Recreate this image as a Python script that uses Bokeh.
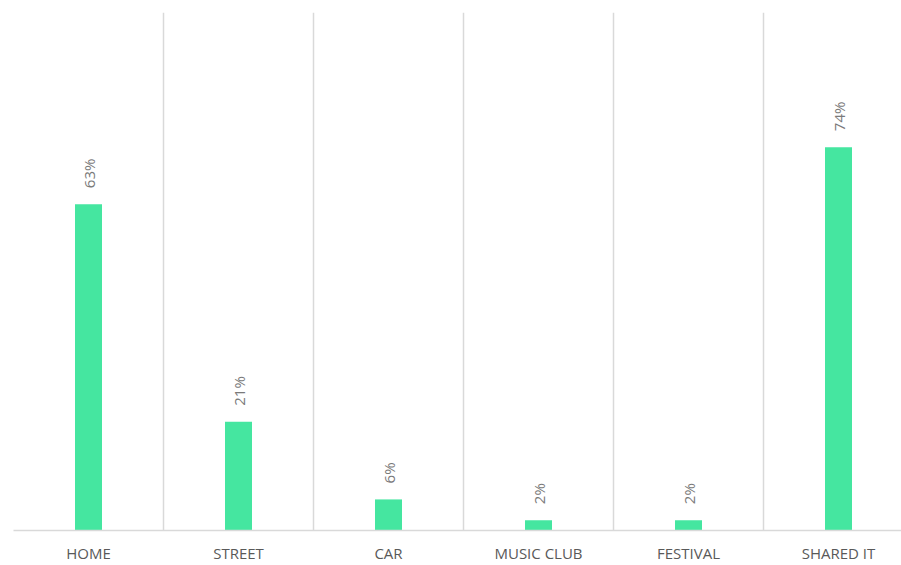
import math
from bokeh.plotting import figure
from bokeh.models import ColumnDataSource, FixedTicker, Range1d
from bokeh.core.properties import value
from bokeh.embed import file_html
from bokeh.resources import INLINE

categories = ["HOME", "STREET", "CAR", "MUSIC CLUB", "FESTIVAL", "SHARED IT"]
values = [63, 21, 6, 2, 2, 74]
value_labels = [f"{v}%" for v in values]

xs = [i + 0.5 for i in range(len(categories))]
src = ColumnDataSource(dict(x=xs, top=values, label=value_labels))

p = figure(width=901, height=565, output_backend="svg", toolbar_location=None,
           x_range=Range1d(0, 888 / 150), y_range=Range1d(0, 100),
           y_axis_location=None, min_border_left=13, min_border_right=0,
           min_border_top=12, min_border_bottom=35)
p.outline_line_color = None
p.background_fill_color = "white"
p.border_fill_color = "white"

p.vbar(x="x", top="top", width=0.18, bottom=0, source=src,
       fill_color="#45E6A0", line_color=None)

p.text(x="x", y="top", text="label", source=src, angle=math.pi / 2,
       text_align="left", text_baseline="middle", y_offset=-16,
       text_font=value("Open Sans"), text_font_size="15px", text_color="#7a7a7a")

xa = p.xaxis[0]
xa.ticker = FixedTicker(ticks=xs)
xa.major_label_overrides = {x: c for x, c in zip(xs, categories)}
xa.major_tick_line_color = None
xa.minor_tick_line_color = None
xa.axis_line_color = "#d9d9d9"
xa.axis_line_width = 1.5
xa.major_label_text_font = "Open Sans"
xa.major_label_text_font_size = "15px"
xa.major_label_text_color = "#595959"
xa.major_label_standoff = 6

p.xgrid.ticker = FixedTicker(ticks=list(range(len(categories) + 1)))
p.xgrid.grid_line_color = "#d9d9d9"
p.xgrid.grid_line_width = 1.5
p.ygrid.grid_line_color = None

open("out.html", "w").write(file_html(p, INLINE))
